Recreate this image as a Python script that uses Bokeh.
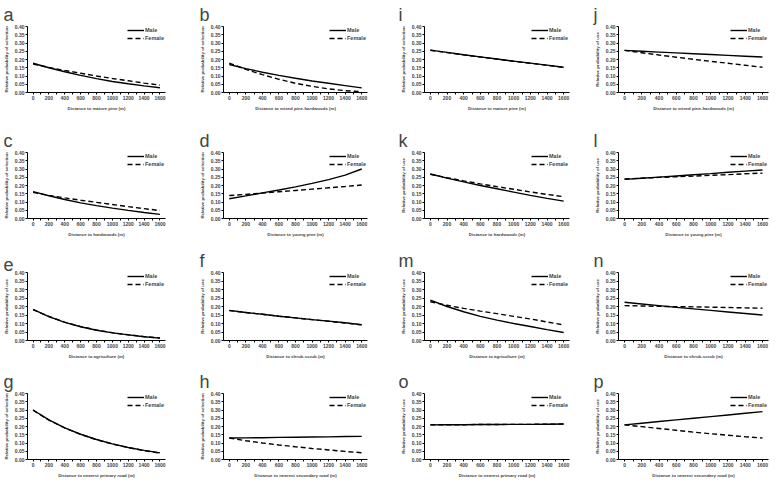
from bokeh.plotting import figure
from bokeh.layouts import column, row
from bokeh.models import Range1d, FixedTicker, NumeralTickFormatter
from bokeh.embed import file_html
from bokeh.resources import INLINE

# ---------------- data ----------------
distance = [0, 200, 400, 600, 800, 1000, 1200, 1400, 1600]
x_tick_values = [0, 200, 400, 600, 800, 1000, 1200, 1400, 1600]
x_minor_values = [100, 300, 500, 700, 900, 1100, 1300, 1500]
y_tick_values = [0.0, 0.05, 0.10, 0.15, 0.20, 0.25, 0.30, 0.35, 0.40]

a_male = [0.177, 0.150, 0.126, 0.104, 0.084, 0.067, 0.053, 0.040, 0.029]
a_female = [0.172, 0.152, 0.133, 0.117, 0.100, 0.085, 0.071, 0.057, 0.045]
b_male = [0.170, 0.145, 0.123, 0.104, 0.086, 0.070, 0.056, 0.042, 0.028]
b_female = [0.178, 0.140, 0.108, 0.080, 0.056, 0.037, 0.022, 0.011, 0.005]
c_male = [0.163, 0.138, 0.115, 0.095, 0.078, 0.063, 0.049, 0.036, 0.025]
c_female = [0.158, 0.140, 0.125, 0.111, 0.098, 0.085, 0.072, 0.060, 0.048]
d_male = [0.120, 0.137, 0.155, 0.173, 0.192, 0.213, 0.236, 0.263, 0.300]
d_female = [0.139, 0.146, 0.154, 0.162, 0.170, 0.178, 0.186, 0.194, 0.203]
e_male = [0.183, 0.140, 0.107, 0.081, 0.060, 0.045, 0.033, 0.022, 0.014]
e_female = [0.182, 0.141, 0.108, 0.082, 0.062, 0.046, 0.034, 0.023, 0.015]
f_male = [0.177, 0.165, 0.154, 0.143, 0.133, 0.123, 0.114, 0.104, 0.093]
f_female = [0.176, 0.165, 0.154, 0.143, 0.133, 0.123, 0.113, 0.103, 0.092]
g_male = [0.300, 0.240, 0.192, 0.153, 0.121, 0.095, 0.073, 0.055, 0.040]
g_female = [0.299, 0.239, 0.191, 0.152, 0.120, 0.094, 0.072, 0.054, 0.039]
h_male = [0.130, 0.131, 0.132, 0.134, 0.135, 0.136, 0.137, 0.139, 0.140]
h_female = [0.130, 0.114, 0.100, 0.088, 0.077, 0.067, 0.058, 0.049, 0.041]
i_male = [0.257, 0.243, 0.229, 0.216, 0.203, 0.190, 0.178, 0.166, 0.153]
i_female = [0.256, 0.242, 0.228, 0.215, 0.202, 0.189, 0.177, 0.165, 0.152]
j_male = [0.255, 0.250, 0.245, 0.240, 0.235, 0.230, 0.225, 0.220, 0.215]
j_female = [0.255, 0.241, 0.227, 0.214, 0.201, 0.189, 0.177, 0.165, 0.153]
k_male = [0.270, 0.245, 0.222, 0.200, 0.180, 0.160, 0.140, 0.122, 0.105]
k_female = [0.268, 0.247, 0.228, 0.210, 0.193, 0.177, 0.161, 0.146, 0.132]
l_male = [0.237, 0.244, 0.251, 0.258, 0.265, 0.272, 0.280, 0.287, 0.294]
l_female = [0.240, 0.244, 0.249, 0.253, 0.257, 0.262, 0.266, 0.271, 0.275]
m_male = [0.237, 0.200, 0.169, 0.142, 0.120, 0.100, 0.082, 0.064, 0.047]
m_female = [0.228, 0.207, 0.189, 0.173, 0.158, 0.142, 0.127, 0.109, 0.092]
n_male = [0.225, 0.215, 0.205, 0.195, 0.186, 0.177, 0.168, 0.159, 0.150]
n_female = [0.205, 0.203, 0.201, 0.199, 0.198, 0.196, 0.194, 0.192, 0.190]
o_male = [0.210, 0.211, 0.211, 0.212, 0.212, 0.213, 0.213, 0.214, 0.215]
o_female = [0.210, 0.211, 0.211, 0.212, 0.212, 0.213, 0.213, 0.214, 0.215]
p_male = [0.210, 0.220, 0.230, 0.240, 0.250, 0.260, 0.270, 0.280, 0.290]
p_female = [0.210, 0.199, 0.188, 0.177, 0.166, 0.156, 0.147, 0.138, 0.130]

x_labels = {
    "a": "Distance to mature pine (m)",
    "b": "Distance to mixed pine-hardwoods (m)",
    "c": "Distance to hardwoods (m)",
    "d": "Distance to young pine (m)",
    "e": "Distance to agriculture (m)",
    "f": "Distance to shrub-scrub (m)",
    "g": "Distance to nearest primary road (m)",
    "h": "Distance to nearest secondary road (m)",
    "i": "Distance to mature pine (m)",
    "j": "Distance to mixed pine-hardwoods (m)",
    "k": "Distance to hardwoods (m)",
    "l": "Distance to young pine (m)",
    "m": "Distance to agriculture (m)",
    "n": "Distance to shrub-scrub (m)",
    "o": "Distance to nearest primary road (m)",
    "p": "Distance to nearest secondary road (m)",
}
SEL = "Relative probability of selection"
USE = "Relative probability of use"
y_labels = {"a": SEL, "b": SEL, "c": SEL, "d": SEL, "e": USE, "f": USE,
            "g": SEL, "h": SEL, "i": SEL, "j": USE, "k": USE, "l": USE,
            "m": USE, "n": USE, "o": USE, "p": USE}
series = {
    "a": (a_male, a_female), "b": (b_male, b_female), "c": (c_male, c_female),
    "d": (d_male, d_female), "e": (e_male, e_female), "f": (f_male, f_female),
    "g": (g_male, g_female), "h": (h_male, h_female), "i": (i_male, i_female),
    "j": (j_male, j_female), "k": (k_male, k_female), "l": (l_male, l_female),
    "m": (m_male, m_female), "n": (n_male, n_female), "o": (o_male, o_female),
    "p": (p_male, p_female),
}
grid_letters = [["a", "b", "i", "j"], ["c", "d", "k", "l"],
                ["e", "f", "m", "n"], ["g", "h", "o", "p"]]

# ---------------- layout geometry ----------------
col_left = [24, 26, 26, 26]
col_frame_w = [138, 144, 145, 150]
col_right = [31, 30, 22, 8]
col_letter_off = [-24, -24, -26, -25]
row_top = [21, 30, 19, 26]
row_frame_h = [66, 66, 68, 66]
row_bottom = [30, 28, 27, 20]

FONT = "Liberation Sans"


def make_panel(letter, r, c):
    male, female = series[letter]
    p = figure(frame_width=col_frame_w[c], frame_height=row_frame_h[r],
               min_border_left=col_left[c], min_border_right=col_right[c],
               min_border_top=row_top[r], min_border_bottom=row_bottom[r],
               x_range=Range1d(-70, 1670), y_range=Range1d(0, 0.40),
               output_backend="svg", toolbar_location=None,
               title=letter)
    p.title.text_font = FONT
    p.title.text_font_size = "18px"
    p.title.text_font_style = "normal"
    p.title.align = "left"
    p.title.offset = col_letter_off[c]
    p.title.standoff = 4
    p.title.text_line_height = 0.8
    p.outline_line_color = None
    p.xgrid.visible = False
    p.ygrid.visible = False
    p.background_fill_color = None
    p.border_fill_color = None

    p.line(distance, male, line_color="black", line_width=1.4, legend_label="Male")
    p.line(distance, female, line_color="black", line_width=1.4,
           line_dash="5 3", legend_label="Female")

    p.xaxis.ticker = FixedTicker(ticks=x_tick_values, minor_ticks=x_minor_values)
    p.yaxis.ticker = FixedTicker(ticks=y_tick_values)
    p.yaxis.formatter = NumeralTickFormatter(format="0.00")
    for ax in (p.xaxis, p.yaxis):
        ax.major_label_text_font = FONT
        ax.major_label_text_font_size = "5px"
        ax.major_label_text_font_style = "bold"
        ax.axis_label_text_font = FONT
        ax.axis_label_text_font_size = "4.4px"
        ax.axis_label_text_font_style = "bold"
        ax.major_tick_out = 2
        ax.major_tick_in = 0
        ax.minor_tick_out = 2
        ax.minor_tick_in = 0
        ax.axis_line_width = 1
        ax.major_label_standoff = 1
        ax.axis_label_standoff = 3
    p.yaxis.minor_tick_out = 0
    p.xaxis.axis_label = x_labels[letter]
    p.yaxis.axis_label = y_labels[letter]

    lg = p.legend[0]
    lg.location = "top_right"
    lg.margin = 0
    lg.padding = 0
    lg.spacing = 0
    lg.glyph_width = 17
    lg.glyph_height = 8
    lg.label_height = 8
    lg.label_standoff = 1
    lg.label_text_font = FONT
    lg.label_text_font_size = "5.5px"
    lg.label_text_font_style = "bold"
    lg.border_line_color = None
    lg.background_fill_alpha = 0
    return p


rows = []
for r, letters in enumerate(grid_letters):
    rows.append(row(*[make_panel(L, r, c) for c, L in enumerate(letters)], spacing=0))
layout = column(*rows, spacing=0)

open("out.html", "w").write(file_html(layout, INLINE))
